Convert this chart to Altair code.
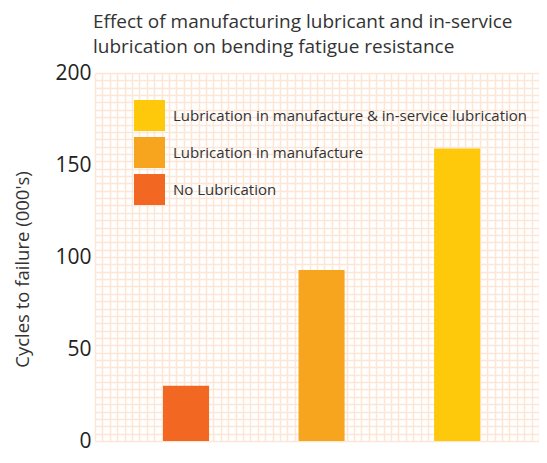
import altair as alt
import pandas as pd

categories = ["No Lubrication", "Lubrication in manufacture",
              "Lubrication in manufacture & in-service lubrication"]
values = [30, 93, 159]
legend_order = ["Lubrication in manufacture & in-service lubrication",
                "Lubrication in manufacture", "No Lubrication"]
legend_colors = ["#FFC90B", "#F7A51E", "#F26722"]
y_ticks = [0, 50, 100, 150, 200]
y_grid_values = list(range(0, 201, 4))
x_grid_values = list(range(0, 61))

df = pd.DataFrame({"cat": categories, "val": values})
grid_df = pd.DataFrame({"g": [0]})

FONT = "Open Sans"
GRID = "#fde6d6"

grid = alt.Chart(grid_df).mark_point(opacity=0).encode(
    x=alt.X("g:Q", scale=alt.Scale(domain=[0, 60], nice=False),
            axis=alt.Axis(values=x_grid_values, grid=True, gridColor=GRID,
                          gridWidth=1.6, labels=False, ticks=False,
                          domain=False, title=None)),
    y=alt.Y("g:Q", scale=alt.Scale(domain=[0, 200], nice=False),
            axis=alt.Axis(values=y_grid_values, grid=True, gridColor=GRID,
                          gridWidth=1.6, labels=False, ticks=False,
                          domain=False, title=None, orient="left")),
)

bars = alt.Chart(df).mark_bar().encode(
    x=alt.X("cat:N", sort=categories,
            scale=alt.Scale(paddingInner=0.66, paddingOuter=0.468,
                            align=0.536),
            axis=None),
    y=alt.Y("val:Q", scale=alt.Scale(domain=[0, 200], nice=False),
            axis=alt.Axis(values=y_ticks, grid=False, ticks=False,
                          domain=False, orient="left",
                          labelFontSize=21, labelColor="#222222",
                          labelFont=FONT, labelPadding=4,
                          title="Cycles to failure (000's)",
                          titleFontSize=18.5, titleFontWeight="normal",
                          titleColor="#333333", titleFont=FONT,
                          titlePadding=22, titleY=196)),
    color=alt.Color("cat:N",
                    scale=alt.Scale(domain=legend_order, range=legend_colors),
                    legend=alt.Legend(title=None, orient="none",
                                      legendX=39, legendY=27,
                                      symbolType="square", symbolSize=961,
                                      symbolStrokeWidth=0, symbolOpacity=1,
                                      labelFontSize=15, labelFont=FONT,
                                      labelColor="#333333", labelOffset=8,
                                      rowPadding=6, labelLimit=500)),
)

chart = alt.layer(grid, bars).resolve_scale(
    x="independent", y="independent"
).properties(
    width=444, height=368,
    autosize=alt.AutoSizeParams(type="none"),
    padding={"left": 87, "top": 65, "right": 0, "bottom": 13},
    title=alt.Title(["Effect of manufacturing lubricant and in-service",
                     "lubrication on bending fatigue resistance"],
                    anchor="start", frame="group", fontSize=19,
                    fontWeight="normal", font=FONT, color="#333333",
                    lineHeight=25, offset=5, dx=-2),
).configure_view(stroke=None)

chart.save("out.html", embed_options={"renderer": "svg", "actions": False})
